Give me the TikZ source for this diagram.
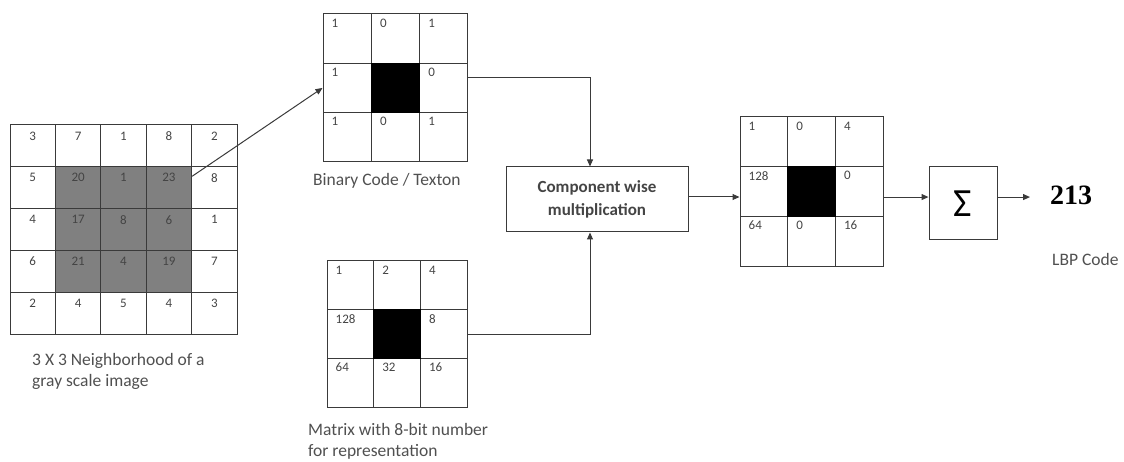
\documentclass[tikz,border=0pt]{standalone}
\usepackage{fontspec}
\setmainfont{Carlito}
\newfontfamily\serifnum{Liberation Serif}
\usetikzlibrary{calc,arrows.meta}
\definecolor{gridline}{HTML}{3A3A3A}
\definecolor{numcol}{HTML}{444444}
\definecolor{labcol}{HTML}{505050}
\definecolor{greyfill}{HTML}{808080}
\begin{document}
\begin{tikzpicture}[x=1pt,y=-1pt,
  cellbox/.style={draw=gridline, line width=1pt, inner sep=0pt, minimum width=#1},
  num/.style={text=numcol, font=\fontsize{13}{13}\selectfont, inner sep=0pt},
  lab/.style={text=labcol, font=\fontsize{17.5}{21}\selectfont, align=left, inner sep=0pt},
  blk/.style={draw=gridline, line width=1pt, inner sep=0pt},
  arr/.style={draw=gridline, line width=1pt, -{Triangle[length=7pt,width=6pt]}}]
\useasboundingbox (0,0) rectangle (1124,462);
% gray block of the 5x5 grid
\fill[greyfill] (55.4,166.8) rectangle (191.6,292.2);
% 5x5 grid
\foreach \row [count=\r from 0] in {{3,7,1,8,2},{5,20,1,23,8},{4,17,8,6,1},{6,21,4,19,7},{2,4,5,4,3}}{
  \foreach \v [count=\c from 0] in \row {
    \node[cellbox=45.4pt, minimum height=41.8pt] (L-\r-\c) at ({10+45.4*(\c+0.5)},{125+41.8*(\r+0.5)}) {};
    \node[num, anchor=north] at ($(L-\r-\c.north)+(0,7)$) {\v};
  }
}
% binary grid
\foreach \row [count=\r from 0] in {{1,0,1},{1,,0},{1,0,1}}{
  \foreach \v [count=\c from 0] in \row {
    \node[cellbox=48.3pt, minimum height=49.3pt] (B-\r-\c) at ({323+48.3*(\c+0.5)},{14+49.3*(\r+0.5)}) {};
    \node[num, anchor=north west] at ($(B-\r-\c.north west)+(9,5)$) {\v};
  }
}
\fill[black] (B-1-1.north west) rectangle (B-1-1.south east);
% weight grid
\foreach \row [count=\r from 0] in {{1,2,4},{128,,8},{64,32,16}}{
  \foreach \v [count=\c from 0] in \row {
    \node[cellbox=46.7pt, minimum height=48.7pt] (M-\r-\c) at ({327+46.7*(\c+0.5)},{261+48.7*(\r+0.5)}) {};
    \node[num, anchor=north west] at ($(M-\r-\c.north west)+(9,5)$) {\v};
  }
}
\fill[black] (M-1-1.north west) rectangle (M-1-1.south east);
% result grid
\foreach \row [count=\r from 0] in {{1,0,4},{128,,0},{64,0,16}}{
  \foreach \v [count=\c from 0] in \row {
    \node[cellbox=47.7pt, minimum height=49.7pt] (R-\r-\c) at ({740+47.7*(\c+0.5)},{117+49.7*(\r+0.5)}) {};
    \node[num, anchor=north west] at ($(R-\r-\c.north west)+(9,5)$) {\v};
  }
}
\fill[black] (R-1-1.north west) rectangle (R-1-1.south east);
% boxes
\node[blk, minimum width=182pt, minimum height=65pt, align=center,
      font=\bfseries\fontsize{17}{23}\selectfont, text=numcol] (comp) at (597,199.5) {Component wise\\multiplication};
\node[blk, minimum width=68pt, minimum height=73pt, font=\fontsize{40}{40}\selectfont] (sig) at (963,203.5) {Σ};
\node[anchor=west, inner sep=0pt, font=\serifnum\bfseries\fontsize{28}{28}\selectfont] (res) at (1050,195) {213};
% labels
\node[lab, anchor=north west] (lg) at (32,353) {3 X 3 Neighborhood of a\\gray scale image};
\node[lab, anchor=north west] (lb) at (313,173) {Binary Code / Texton};
\node[lab, anchor=north west] (lm) at (308,423) {Matrix with 8-bit number\\for representation};
\node[lab, anchor=north west] (ll) at (1052,253) {LBP Code};
% connectors
\draw[arr] ($(L-1-3.north east)+(0,10)$) -- (B-1-0.west);
\coordinate (b1) at ($(B-1-2.north east)+(0,15)$);
\draw[arr] (b1) -| ($(comp.north)+(-7,0)$);
\draw[arr] (M-1-2.east) -| ($(comp.south)+(-7,0)$);
\coordinate (c1) at ($(comp.east)+(0,-2.5)$);
\draw[arr] (c1) -- (c1 -| R-1-0.west);
\coordinate (a5) at ($(R-1-2.east)+(0,5.5)$);
\draw[arr] (a5) -- (a5 -| sig.west);
\draw[arr, shorten >=20pt] (sig.east |- a5) -- (res.west |- a5);
\end{tikzpicture}
\end{document}
